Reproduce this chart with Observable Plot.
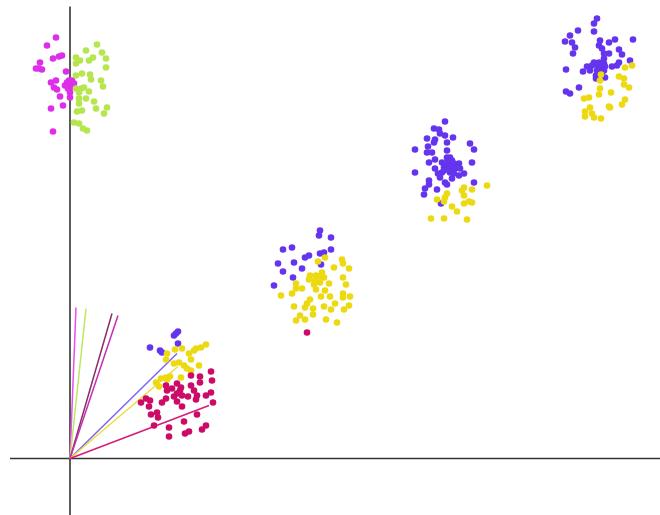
<!DOCTYPE html>
<html><head><meta charset="utf-8">
<style>html,body{margin:0;padding:0;background:#fff}svg{display:block}</style>
<script src="https://cdn.jsdelivr.net/npm/d3@7"></script>
<script src="https://cdn.jsdelivr.net/npm/@observablehq/plot@0.6"></script>
</head><body><div id="chart"></div>
<script>
const magenta=[[-14,421],[-23,413],[-17,400],[-8,403],[-11,402],[-30,396],[-34,390],[-28,389],[-31,390],[-4,387],[-14,378],[-19,376],[-16,371],[-13,369],[-10,362],[-7,353],[-19,350],[-17,327],[-3,376],[0,375],[4,375],[-5,373],[0,371],[0,366],[0,361],[2,378],[-2,370],[2,372],[-1,378]];
const green=[[27,414],[16,408],[32,406],[36,400],[6,401],[10,398],[6,395],[19,398],[23,401],[36,391],[6,383],[12,385],[20,384],[21,379],[31,378],[33,372],[6,370],[11,370],[14,371],[19,367],[9,366],[9,360],[16,360],[9,355],[24,357],[26,350],[37,351],[34,345],[7,347],[12,348],[4,336],[9,335],[13,330],[17,328]];
const blue=[[108,127],[104,123],[106,125],[108,115],[80,111],[90,108],[92,106],
[250,228],[249,223],[261,221],[213,209],[222,211],[235,201],[239,203],[250,205],[254,206],[261,209],[224,196],[208,195],[213,187],[232,190],[251,194],[223,181],[204,173],
[375,337],[364,330],[369,329],[370,325],[375,323],[383,321],[357,320],[365,319],[364,316],[377,316],[400,315],[358,312],[404,309],[345,309],[357,306],[362,306],[377,308],[377,301],[380,301],[365,299],[359,296],[372,296],[379,296],[384,295],[389,295],[402,296],[365,290],[374,291],[379,291],[385,290],[390,290],[368,285],[372,286],[380,286],[384,285],[394,285],[345,286],[370,281],[382,280],[389,283],[375,276],[377,274],[359,278],[359,274],[404,276],[355,270],[367,269],[354,264],[371,255],[376,293],[381,293],[378,298],[382,298],[374,288],[383,290],
[527,440],[524,435],[524,427],[508,428],[500,423],[563,419],[495,417],[502,416],[530,418],[539,416],[545,419],[505,411],[529,413],[532,410],[549,409],[503,405],[534,405],[539,405],[552,404],[534,400],[560,398],[549,396],[524,396],[529,396],[534,395],[517,392],[522,393],[530,391],[542,392],[547,393],[496,389],[513,387],[520,388],[527,388],[534,388],[526,383],[526,380],[535,381],[509,371],[496,367],[500,365],[528,393],[532,386],[535,392]];
const yellow=[[97,105],[96,99],[105,109],[112,110],[119,105],[121,99],[126,110],[131,111],[136,114],[124,108],[104,95],[109,96],[114,93],[117,90],[121,88],[129,93],[111,81],[100,82],[96,81],[91,80],[86,76],[89,72],[97,79],
[248,197],[255,201],[272,199],[273,195],[264,191],[279,190],[252,186],[240,183],[246,183],[239,179],[254,181],[250,176],[259,175],[273,181],[276,174],[226,175],[226,170],[232,170],[246,169],[211,163],[222,165],[255,168],[251,162],[260,162],[273,165],[273,161],[280,162],[240,159],[237,155],[265,155],[224,152],[254,152],[235,151],[243,150],[243,144],[261,149],[274,149],[279,153],[230,143],[235,139],[226,138],[256,139],[267,136],[245,178],[250,182],[244,174],
[417,273],[394,271],[392,268],[402,269],[377,265],[394,263],[375,261],[367,259],[374,257],[399,257],[402,256],[394,255],[382,252],[387,247],[361,240],[374,240],[397,239],
[562,393],[555,391],[531,384],[530,378],[549,382],[554,380],[554,374],[559,371],[530,370],[529,364],[541,366],[514,360],[519,361],[555,359],[552,354],[539,352],[540,351],[520,351],[515,347],[515,342],[522,345],[524,341],[531,340]];
const pink=[[141,87],[130,82],[121,83],[142,78],[130,76],[107,75],[96,73],[121,73],[111,71],[102,70],[97,68],[124,68],[141,66],[136,63],[127,63],[107,65],[112,63],[126,59],[143,56],[96,60],[92,56],[107,57],[112,52],[76,60],[71,56],[80,58],[79,52],[81,44],[88,41],[87,46],[127,44],[114,37],[84,33],[99,31],[99,22],[115,25],[119,27],[136,33],[132,29],[237,126],[110,68],[104,62],[118,62]];
const rays=[
 {x:6,y:151,c:"#e84ff0"},{x:16,y:150,c:"#bde85f"},{x:42,y:145,c:"#8a2f66"},{x:48,y:143,c:"#c42fb4"},
 {x:107,y:105,c:"#7a66f0"},{x:108,y:92,c:"#efdc3a"},{x:139,y:53,c:"#d81a78"}];
const pts=(d,fill)=>Plot.dot(d,{x:p=>p[0],y:p=>p[1],r:3.3,fill,stroke:"none"});
const chart=Plot.plot({width:660,height:515,marginTop:0,marginRight:0,marginBottom:0,marginLeft:0,
 x:{domain:[-69.5,590.5],range:[0,660],axis:null},
 y:{domain:[-57,458],range:[515,0],axis:null},
 marks:[
  Plot.link([{a:-60,b:0,c:590,d:0}],{x1:"a",y1:"b",x2:"c",y2:"d",stroke:"#333",strokeWidth:1.6}),
  Plot.link([{a:0,b:-57,c:0,d:452}],{x1:"a",y1:"b",x2:"c",y2:"d",stroke:"#333",strokeWidth:1.6}),
  Plot.link(rays,{x1:()=>0,y1:()=>0,x2:"x",y2:"y",stroke:"c",strokeWidth:1.5}),
  pts(magenta,"#dd2fe9"),pts(green,"#b5e64e"),pts(blue,"#6434ee"),pts(yellow,"#ecd912"),pts(pink,"#cc0a68")
 ]});
document.getElementById("chart").append(chart);
</script></body></html>
